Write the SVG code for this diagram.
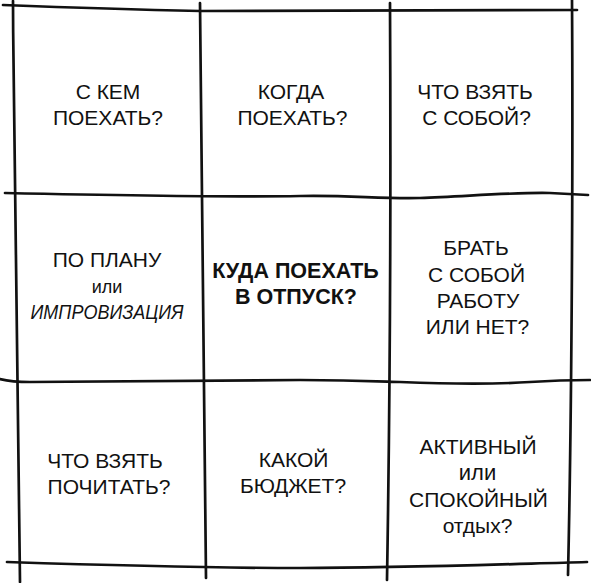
<svg xmlns="http://www.w3.org/2000/svg" width="591" height="583" viewBox="0 0 591 583">
<style>
.ln{fill:none;stroke:#111;stroke-width:2.7;stroke-linecap:round;stroke-linejoin:round}
text{font-family:"Liberation Sans",Arial,"Noto Sans",sans-serif;fill:#111;text-anchor:middle;font-size:21px}
.b{font-weight:bold;font-size:21.5px}
.s{font-size:18px}
.m{font-size:22px}
.i{font-style:italic}
</style>
<rect width="591" height="583" fill="#fff"/>
<g id="grid">
<path class="ln" d="M13,1 C14,200 16,400 20,582"/>
<path class="ln" d="M200,3 C202,200 204,400 206,578"/>
<path class="ln" d="M390,3 C391,200 390,400 387,580"/>
<path class="ln" d="M572,0 C573,150 572,400 568,575"/>
<path class="ln" d="M3,5 C80,8 150,10 200,11 L577,10"/>
<path class="ln" d="M5,193 C100,195 250,197 300,196 C350,195 380,199 420,198 C470,196 520,192 550,193 L588,195"/>
<path class="ln" d="M0,379 C8,381 15,382 30,382 C100,382 200,381 300,380 C350,380 370,381 400,382 C450,384 500,384 530,382 C560,380 575,380 590,380"/>
<path class="ln" d="M7,562 C100,565 200,568 300,568 C400,568 480,565 587,562"/>
</g>
<g id="n1"><text x="108" y="99">С КЕМ</text><text x="108" y="125">ПОЕХАТЬ?</text></g>
<g id="n2"><text x="291" y="99">КОГДА</text><text x="292.5" y="125">ПОЕХАТЬ?</text></g>
<g id="n3"><text x="475" y="99">ЧТО ВЗЯТЬ</text><text x="476.5" y="125">С СОБОЙ?</text></g>
<g id="n4"><text x="107" y="267">ПО ПЛАНУ</text><text class="s" x="107" y="293">или</text><text class="i" x="107" y="319" textLength="153" lengthAdjust="spacingAndGlyphs">ИМПРОВИЗАЦИЯ</text></g>
<g id="n5"><text class="b" x="295.5" y="278">КУДА ПОЕХАТЬ</text><text class="b" x="296" y="304">В ОТПУСК?</text></g>
<g id="n6"><text x="476" y="255">БРАТЬ</text><text x="476.5" y="282">С СОБОЙ</text><text x="478" y="308">РАБОТУ</text><text x="477.5" y="334">ИЛИ НЕТ?</text></g>
<g id="n7"><text x="105" y="468">ЧТО ВЗЯТЬ</text><text x="109" y="494">ПОЧИТАТЬ?</text></g>
<g id="n8"><text x="293.5" y="467">КАКОЙ</text><text x="293" y="493">БЮДЖЕТ?</text></g>
<g id="n9"><text x="478" y="454">АКТИВНЫЙ</text><text class="m" x="477.5" y="480">или</text><text x="478.5" y="507">СПОКОЙНЫЙ</text><text x="477.5" y="533">отдых?</text></g>
</svg>
